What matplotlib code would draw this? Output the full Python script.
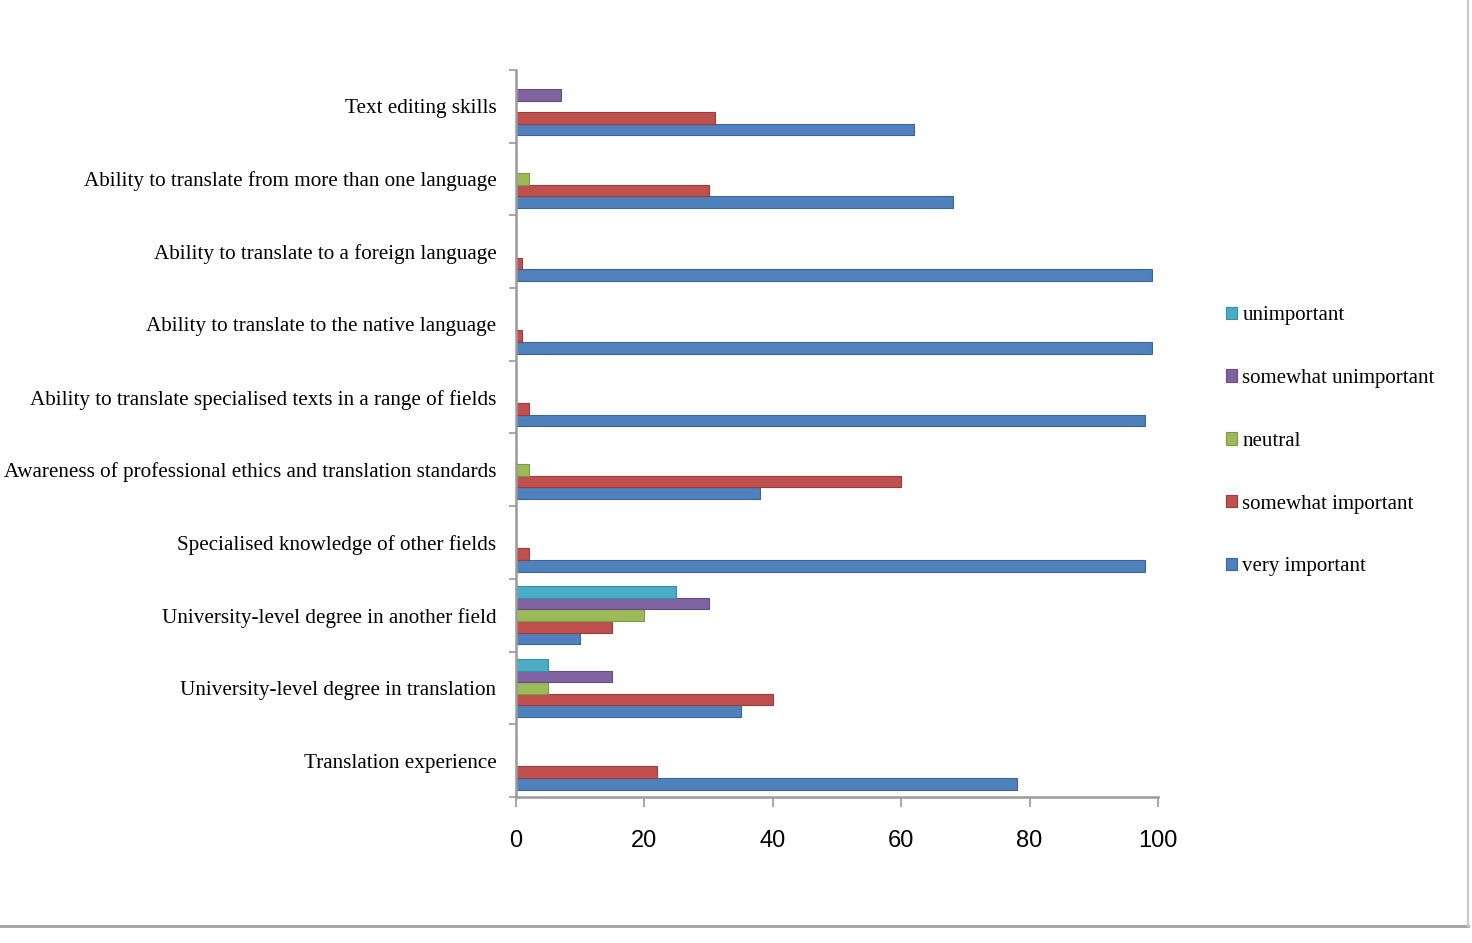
import numpy as np
import matplotlib
matplotlib.use("Agg")
import matplotlib.pyplot as plt
from matplotlib.lines import Line2D

# categories, bottom to top
categories = [
    "Translation experience",
    "University-level degree in translation",
    "University-level degree in another field",
    "Specialised knowledge of other fields",
    "Awareness of professional ethics and translation standards",
    "Ability to translate specialised texts in a range of fields",
    "Ability to translate to the native language",
    "Ability to translate to a foreign language",
    "Ability to translate from more than one language",
    "Text editing skills",
]

very_important = [78, 35, 10, 98, 38, 98, 99, 99, 68, 62]
somewhat_important = [22, 40, 15, 2, 60, 2, 1, 1, 30, 31]
neutral = [0, 5, 20, 0, 2, 0, 0, 0, 2, 0]
somewhat_unimportant = [0, 15, 30, 0, 0, 0, 0, 0, 0, 7]
unimportant = [0, 5, 25, 0, 0, 0, 0, 0, 0, 0]

series_names = ["very important", "somewhat important", "neutral",
                "somewhat unimportant", "unimportant"]
series_values = [very_important, somewhat_important, neutral,
                 somewhat_unimportant, unimportant]
colors = ["#4F81BD", "#C0504D", "#9BBB59", "#8064A2", "#4BACC6"]
edge_colors = ["#3A6699", "#9E3B38", "#7C9A41", "#634C85", "#3290AA"]

xticks = [0, 20, 40, 60, 80, 100]

serif = ["Liberation Serif", "DejaVu Serif"]
narrow = ["Liberation Sans Narrow", "Liberation Sans", "DejaVu Sans"]

fig = plt.figure(figsize=(14.72, 9.43), dpi=100)
ax = fig.add_axes([0.3505, 0.1548, 0.4362, 0.771])

y = np.arange(len(categories))
h = 0.16
handles = []
for k, (name, vals) in enumerate(zip(series_names, series_values)):
    bars = ax.barh(y + (k - 2) * h, vals, height=h, color=colors[k],
                   edgecolor=edge_colors[k], linewidth=0.8, label=name)
    handles.append(bars)

ax.set_xlim(0, 100)
ax.set_ylim(-0.5, len(categories) - 0.5)
ax.set_xticks(xticks)
ax.set_xticklabels([str(t) for t in xticks], family=narrow, fontsize=17)
ax.tick_params(axis="x", direction="out", length=7, width=1.2,
               color="#9a9a9a", pad=17)

ax.set_yticks(y)
ax.set_yticklabels(categories, family=serif, fontsize=15.2)
ax.tick_params(axis="y", which="major", length=0, pad=14)
ax.set_yticks(np.arange(-0.5, len(categories)), minor=True)
ax.tick_params(axis="y", which="minor", direction="out", length=5,
               width=1.2, color="#9a9a9a")

for side in ["top", "right"]:
    ax.spines[side].set_visible(False)
for side in ["left", "bottom"]:
    ax.spines[side].set_color("#9a9a9a")
    ax.spines[side].set_linewidth(1.8)

fig.legend(handles[::-1], series_names[::-1], loc="center left",
           bbox_to_anchor=(0.82, 0.532), frameon=False,
           prop={"family": serif, "size": 15}, handlelength=0.55,
           handleheight=0.55, handletextpad=0.25, labelspacing=2.1)

# image border
fig.add_artist(Line2D([0, 0.9975], [0.018, 0.018], color="#a0a0a0",
                      linewidth=2, transform=fig.transFigure))
fig.add_artist(Line2D([0.9975, 0.9975], [0.018, 1], color="#c8c8c8",
                      linewidth=1.5, transform=fig.transFigure))

fig.savefig("out.png", dpi=100, facecolor="white")
